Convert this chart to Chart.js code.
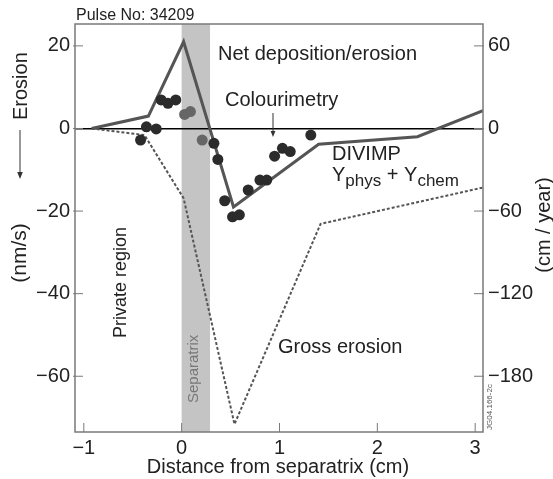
<!DOCTYPE html>
<html>
<head>
<meta charset="utf-8">
<script src="https://cdn.jsdelivr.net/npm/chart.js@4.4.1/dist/chart.umd.min.js"></script>
<style>
  html, body { margin: 0; padding: 0; background: #fff; }
</style>
</head>
<body>
<canvas id="erosionChart" width="553" height="479"></canvas>
<script>
(function () {
  // Axis ranges (left axis in nm/s, right axis in cm/year = 3x left)
  var X_RANGE = [-1.09, 3.08];
  var Y_RANGE = [-73.5, 25.3];
  var Y2_FACTOR = 3;
  var SEPARATRIX_BAND = [0, 0.29];

  // DIVIMP net deposition/erosion (Yphys + Ychem)
  var divimpX = [-0.92, -0.34, 0.02, 0.53, 1.40, 2.41, 3.08];
  var divimpY = [0, 3.0, 21.0, -19.0, -3.8, -2.0, 4.3];

  // Gross erosion (dotted)
  var grossX = [-0.92, -0.38, 0.02, 0.54, 1.42, 3.08];
  var grossY = [0, -1.6, -16.9, -71.6, -23.1, -14.3];

  // Colourimetry measurements
  var colourX = [-0.42, -0.36, -0.26, -0.21, -0.14, -0.06, 0.03, 0.09, 0.21, 0.33, 0.37,
                 0.44, 0.52, 0.59, 0.68, 0.80, 0.87, 0.95, 1.03, 1.11, 1.32];
  var colourY = [-2.8, 0.4, -0.1, 6.9, 6.1, 6.9, 3.4, 4.1, -2.8, -3.6, -7.5,
                 -17.5, -21.4, -20.9, -14.9, -12.5, -12.5, -6.7, -4.8, -5.6, -1.6];
  // points lying in the separatrix band are printed lighter
  var colourInBand = [6, 7, 8];

  var FONT = '"Liberation Sans", Arial, sans-serif';
  var INK = '#222';
  var LINE = '#555';
  var FRAME = '#7a7a7a';

  function pts(xs, ys) {
    return xs.map(function (x, i) { return { x: x, y: ys[i] }; });
  }

  function fmt(v) {
    return v < 0 ? '\u2212' + Math.abs(v) : String(v);
  }

  function vtext(ctx, text, x, y, font, color, align) {
    ctx.save();
    ctx.translate(x, y);
    ctx.rotate(-Math.PI / 2);
    ctx.font = font;
    ctx.fillStyle = color;
    ctx.textAlign = align || 'center';
    ctx.textBaseline = align ? 'alphabetic' : 'middle';
    ctx.fillText(text, 0, 0);
    ctx.restore();
  }

  function arrowDown(ctx, x, y1, y2, head) {
    ctx.save();
    ctx.strokeStyle = '#333';
    ctx.fillStyle = '#333';
    ctx.lineWidth = 1;
    ctx.beginPath();
    ctx.moveTo(x, y1);
    ctx.lineTo(x, y2 - head);
    ctx.stroke();
    ctx.beginPath();
    ctx.moveTo(x - head / 2.5, y2 - head);
    ctx.lineTo(x + head / 2.5, y2 - head);
    ctx.lineTo(x, y2);
    ctx.closePath();
    ctx.fill();
    ctx.restore();
  }

  // Grey separatrix band behind everything
  var bandPlugin = {
    id: 'band',
    beforeDraw: function (chart) {
      var xs = chart.scales.x, a = chart.chartArea, ctx = chart.ctx;
      var x1 = xs.getPixelForValue(SEPARATRIX_BAND[0]);
      var x2 = xs.getPixelForValue(SEPARATRIX_BAND[1]);
      ctx.save();
      ctx.fillStyle = '#c4c4c4';
      ctx.fillRect(x1, a.top, x2 - x1, a.bottom - a.top);
      ctx.restore();
    }
  };

  // Frame, inward ticks and all annotations
  var decorPlugin = {
    id: 'decor',
    afterDraw: function (chart) {
      var ctx = chart.ctx, a = chart.chartArea;
      var sx = chart.scales.x, sy = chart.scales.y, sy2 = chart.scales.y2;

      ctx.save();
      ctx.strokeStyle = FRAME;
      ctx.lineWidth = 1.5;
      ctx.strokeRect(a.left, a.top, a.right - a.left, a.bottom - a.top);

      ctx.lineWidth = 1;
      ctx.beginPath();
      sx.ticks.forEach(function (t) {
        var p = sx.getPixelForValue(t.value);
        ctx.moveTo(p, a.bottom); ctx.lineTo(p, a.bottom - 9);
      });
      sy.ticks.forEach(function (t) {
        var p = sy.getPixelForValue(t.value);
        ctx.moveTo(a.left - 2, p); ctx.lineTo(a.left + 8, p);
      });
      sy2.ticks.forEach(function (t) {
        var p = sy2.getPixelForValue(t.value);
        ctx.moveTo(a.right - 9, p); ctx.lineTo(a.right + 1, p);
      });
      ctx.stroke();
      ctx.restore();

      ctx.save();
      ctx.fillStyle = INK;
      ctx.textBaseline = 'alphabetic';
      ctx.textAlign = 'left';

      ctx.font = '16px ' + FONT;
      ctx.fillText('Pulse No: 34209', 76, 20);

      ctx.font = '20px ' + FONT;
      ctx.fillText('Net deposition/erosion', 218, 60);
      ctx.fillText('Colourimetry', 225, 106);
      ctx.fillText('DIVIMP', 332, 160);
      ctx.fillText('Gross erosion', 278, 353);

      // Y_phys + Y_chem
      var x = 332;
      ctx.font = '20px ' + FONT;
      ctx.fillText('Y', x, 181); x += ctx.measureText('Y').width;
      ctx.font = '17px ' + FONT;
      ctx.fillText('phys', x, 186); x += ctx.measureText('phys').width;
      ctx.font = '20px ' + FONT;
      ctx.fillText(' + Y', x, 181); x += ctx.measureText(' + Y').width;
      ctx.font = '17px ' + FONT;
      ctx.fillText('chem', x, 186);

      ctx.textAlign = 'center';
      ctx.font = '20px ' + FONT;
      ctx.fillText('Distance from separatrix (cm)', 278, 473);
      ctx.restore();

      vtext(ctx, 'Private region', 126, 338, '18px ' + FONT, INK, 'left');
      vtext(ctx, 'Separatrix', 198, 403, '15px ' + FONT, '#777', 'left');
      vtext(ctx, 'Erosion', 27, 120, '20px ' + FONT, INK, 'left');
      vtext(ctx, '(nm/s)', 20, 253, '21px ' + FONT, INK);
      vtext(ctx, '(cm / year)', 544, 225, '20px ' + FONT, INK);
      vtext(ctx, 'JG04.166-2c', 490, 407, '8px ' + FONT, '#555');

      arrowDown(ctx, 20, 130, 179, 7);
      arrowDown(ctx, 273, 113, 137, 6);
    }
  };

  var pointColors = colourX.map(function (_, i) {
    return colourInBand.indexOf(i) >= 0 ? '#666' : '#2b2b2b';
  });

  var tickFont = { family: FONT, size: 20 };

  new Chart(document.getElementById('erosionChart'), {
    type: 'scatter',
    plugins: [bandPlugin, decorPlugin],
    data: {
      datasets: [
        {
          label: 'Colourimetry',
          data: pts(colourX, colourY),
          backgroundColor: pointColors,
          borderWidth: 0,
          pointRadius: 5.5
        },
        {
          label: 'DIVIMP Yphys + Ychem',
          data: pts(divimpX, divimpY),
          showLine: true,
          borderColor: LINE,
          borderWidth: 3,
          pointRadius: 0,
          tension: 0
        },
        {
          label: 'Gross erosion',
          data: pts(grossX, grossY),
          showLine: true,
          borderColor: LINE,
          borderWidth: 2,
          borderDash: [3, 2],
          pointRadius: 0,
          tension: 0
        }
      ]
    },
    options: {
      responsive: false,
      animation: false,
      layout: { padding: { top: 24, left: 0, right: 0, bottom: 0 } },
      plugins: { legend: { display: false }, tooltip: { enabled: false } },
      scales: {
        x: {
          type: 'linear',
          min: X_RANGE[0],
          max: X_RANGE[1],
          afterFit: function (s) { s.height = 47; },
          border: { display: false },
          grid: { display: false, drawTicks: false },
          ticks: { stepSize: 1, includeBounds: false, color: INK, font: tickFont, padding: 4, callback: fmt }
        },
        y: {
          position: 'left',
          min: Y_RANGE[0],
          max: Y_RANGE[1],
          afterFit: function (s) { s.width = 75; },
          border: { display: false },
          grid: {
            drawTicks: false,
            lineWidth: 1.5,
            color: function (c) { return c.tick && c.tick.value === 0 ? '#000' : 'rgba(0,0,0,0)'; }
          },
          ticks: { stepSize: 20, includeBounds: false, color: INK, font: tickFont, padding: 5, callback: fmt }
        },
        y2: {
          position: 'right',
          min: Y_RANGE[0] * Y2_FACTOR,
          max: Y_RANGE[1] * Y2_FACTOR,
          afterFit: function (s) { s.width = 70; },
          border: { display: false },
          grid: { display: false, drawTicks: false },
          ticks: { stepSize: 60, includeBounds: false, color: INK, font: tickFont, padding: 5, callback: fmt }
        }
      }
    }
  });
})();
</script>
</body>
</html>
